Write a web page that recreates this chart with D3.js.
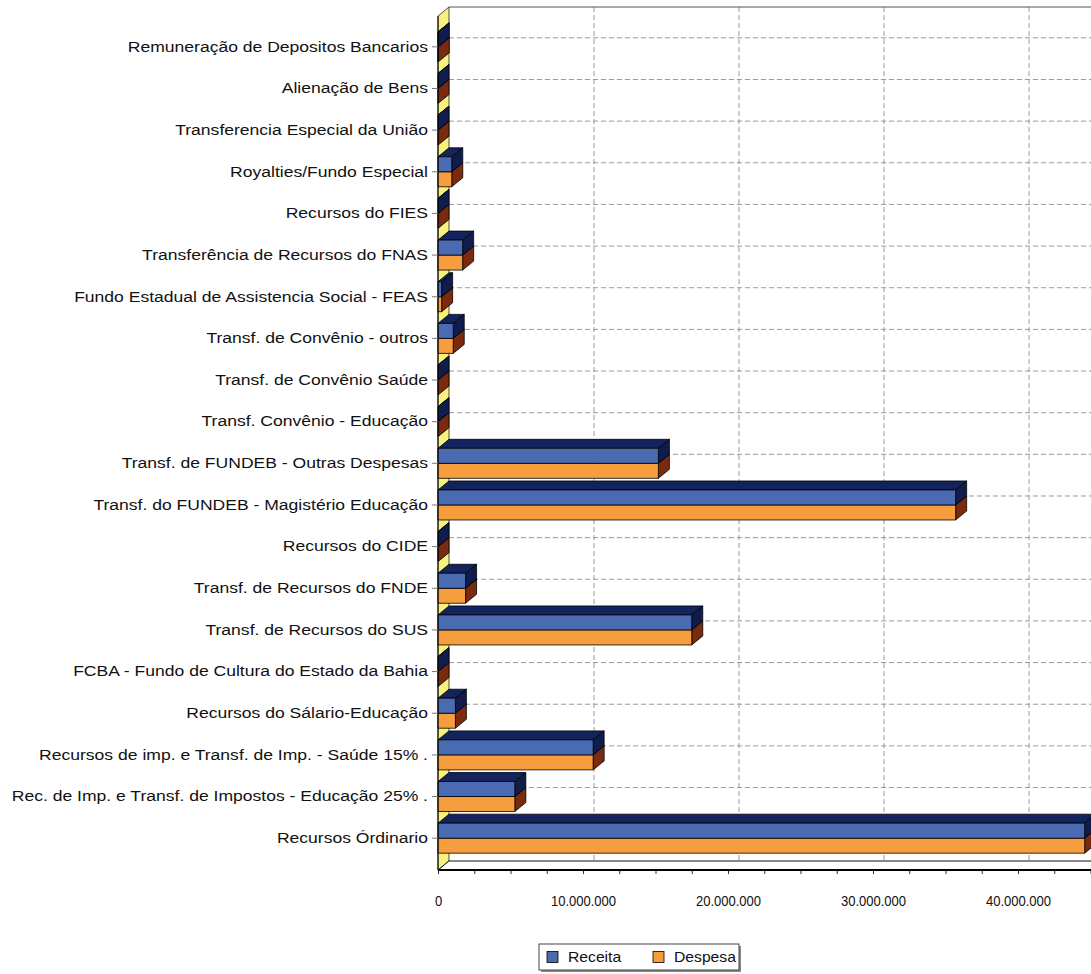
<!DOCTYPE html>
<html>
<head>
<meta charset="utf-8">
<script src="https://cdn.jsdelivr.net/npm/d3@7"></script>
<style>
  html, body { margin: 0; padding: 0; background: #fff; }
  svg { display: block; }
</style>
</head>
<body>
<svg id="chart" width="1091" height="974"></svg>
<script>
const categories = [
  "Remuneração de Depositos Bancarios",
  "Alienação de Bens",
  "Transferencia Especial da União",
  "Royalties/Fundo Especial",
  "Recursos do FIES",
  "Transferência de Recursos do FNAS",
  "Fundo Estadual de Assistencia Social - FEAS",
  "Transf. de Convênio - outros",
  "Transf. de Convênio Saúde",
  "Transf. Convênio - Educação",
  "Transf. de FUNDEB - Outras Despesas",
  "Transf. do FUNDEB - Magistério Educação",
  "Recursos do CIDE",
  "Transf. de Recursos do FNDE",
  "Transf. de Recursos do SUS",
  "FCBA - Fundo de Cultura do Estado da Bahia",
  "Recursos do Sálario-Educação",
  "Recursos de imp. e Transf. de Imp. - Saúde 15% .",
  "Rec. de Imp. e Transf. de Impostos - Educação 25% .",
  "Recursos Órdinario"
]
const receita = [20000, 0, 0, 950000, 0, 1700000, 250000, 1050000, 0, 0,
  15200000, 35700000, 0, 1900000, 17500000, 0, 1200000, 10700000, 5300000, 44600000]
const despesa = [20000, 0, 0, 950000, 0, 1700000, 250000, 1050000, 0, 0,
  15200000, 35700000, 0, 1900000, 17500000, 0, 1200000, 10700000, 5300000, 44600000]
const seriesNames = ["Receita", "Despesa"]
const majorTicks = [0, 10000000, 20000000, 30000000, 40000000]
const minorTicks = d3.range(0, 50000001, 2500000)

// look
const colors = {
  Receita: { face: "#4a6bb2", top: "#13245c", side: "#0f1c4c" },
  Despesa: { face: "#f69e3e", top: "#7a2a0e", side: "#7a2a0e" }
}
const SX = 1.17           // horizontal stretch of the category texts
const DX = 11, DY = 9     // 3d depth
const pLeft = 438, pTop = 16, pBottom = 870, pFar = 1300
const font = "'Liberation Sans', Arial, sans-serif"

const svg = d3.select("#chart")
const fmt = d3.formatLocale({ decimal: ",", thousands: ".", grouping: [3], currency: ["", ""] }).format(",d")

const x = d3.scaleLinear().domain([0, 10000000]).range([pLeft, pLeft + 145])
const y = d3.scaleBand().domain(categories).range([26, 859])
const inner = d3.scaleBand().domain(seriesNames).range([-15, 15])

const pts = p => p.map(d => d.join(",")).join(" ")

// back wall grid
const grid = svg.append("g")
  .attr("stroke", "#9a9a9a")
  .attr("stroke-dasharray", "5,3")
grid.selectAll("line.v")
  .data(majorTicks.slice(1).concat([50000000]))
  .enter().append("line")
  .attr("x1", d => x(d) + DX).attr("x2", d => x(d) + DX)
  .attr("y1", pTop - DY).attr("y2", pBottom - DY)
grid.selectAll("line.h")
  .data(categories)
  .enter().append("line")
  .attr("x1", pLeft + DX).attr("x2", pFar)
  .attr("y1", d => y(d) + y.bandwidth() / 2 - DY)
  .attr("y2", d => y(d) + y.bandwidth() / 2 - DY)

svg.append("line")
  .attr("x1", pLeft + DX).attr("x2", pFar)
  .attr("y1", pTop - DY).attr("y2", pTop - DY)
  .attr("stroke", "#555")

// left wall
svg.append("polygon")
  .attr("points", pts([[pLeft, pTop], [pLeft + DX, pTop - DY], [pLeft + DX, pBottom - DY], [pLeft, pBottom]]))
  .attr("fill", "#f7f27e")
  .attr("stroke", "#222")
  .attr("stroke-width", 0.8)

// floor
svg.append("polygon")
  .attr("points", pts([[pLeft, pBottom], [pLeft + DX, pBottom - DY], [pFar, pBottom - DY], [pFar, pBottom]]))
  .attr("fill", "#fff")
  .attr("stroke", "#111")
  .attr("stroke-width", 1)

// bars (Despesa first so Receita sits on top of its 3d face)
const rows = categories.map((c, i) => ({ c, Receita: receita[i], Despesa: despesa[i] }))
const order = ["Despesa", "Receita"]

const bars = svg.append("g")
  .attr("stroke", "#000")
  .attr("stroke-width", 0.8)
  .attr("stroke-linejoin", "round")

rows.forEach(r => {
  order.forEach(s => {
    const y0 = y(r.c) + y.bandwidth() / 2 + inner(s)
    const h = inner.bandwidth()
    const x0 = x(0), x1 = x(r[s])
    const g = bars.append("g")
    g.append("polygon")
      .attr("points", pts([[x0, y0], [x0 + DX, y0 - DY], [x1 + DX, y0 - DY], [x1, y0]]))
      .attr("fill", colors[s].top)
    g.append("polygon")
      .attr("points", pts([[x1, y0], [x1 + DX, y0 - DY], [x1 + DX, y0 + h - DY], [x1, y0 + h]]))
      .attr("fill", colors[s].side)
    g.append("rect")
      .attr("x", x0).attr("y", y0)
      .attr("width", x1 - x0).attr("height", h)
      .attr("fill", colors[s].face)
  })
})

// category axis
const yAxis = svg.append("g")
  .attr("transform", `translate(${pLeft},0)`)
  .call(d3.axisLeft(y).tickSize(6).tickSizeOuter(0))
yAxis.select(".domain")
  .attr("d", `M0,${pTop}V${pBottom}`)
  .attr("stroke", "#000")
yAxis.selectAll(".tick line").attr("stroke", "#777")
yAxis.selectAll(".tick text")
  .attr("x", -10 / SX)
  .attr("transform", `scale(${SX},1)`)
  .attr("font-family", font)
  .attr("font-size", 15)
  .attr("fill", "#111")

// value axis
const xMinor = svg.append("g")
  .attr("transform", `translate(0,${pBottom})`)
  .call(d3.axisBottom(x).tickValues(minorTicks).tickSize(4).tickFormat(""))
xMinor.select(".domain").remove()
xMinor.selectAll(".tick line").attr("stroke", "#333")

const xAxis = svg.append("g")
  .attr("transform", `translate(0,${pBottom})`)
  .call(d3.axisBottom(x).tickValues(majorTicks).tickSize(0).tickPadding(26).tickFormat(fmt))
xAxis.select(".domain").remove()
xAxis.selectAll(".tick text")
  .attr("transform", "scale(0.93,1)")
  .attr("font-family", font)
  .attr("font-size", 14)
  .attr("fill", "#111")

svg.append("line")
  .attr("x1", pLeft).attr("x2", pFar)
  .attr("y1", pBottom).attr("y2", pBottom)
  .attr("stroke", "#000")
  .attr("stroke-width", 2)

// legend
const legend = svg.append("g").attr("transform", "translate(539,944)")
legend.append("rect")
  .attr("x", 2).attr("y", 2).attr("width", 200).attr("height", 26)
  .attr("fill", "#8a8a8a")
legend.append("rect")
  .attr("width", 200).attr("height", 26)
  .attr("fill", "#fff").attr("stroke", "#444")

const lx = d3.scalePoint().domain(seriesNames).range([8, 114])
const item = legend.selectAll("g.item")
  .data(seriesNames)
  .enter().append("g")
  .attr("transform", d => `translate(${lx(d)},0)`)
item.append("rect")
  .attr("y", 7.5).attr("width", 11).attr("height", 11)
  .attr("fill", d => colors[d].face)
  .attr("stroke", "#000").attr("stroke-width", 0.8)
item.append("text")
  .attr("transform", "translate(21,18) scale(1.12,1)")
  .attr("font-family", font)
  .attr("font-size", 14)
  .attr("fill", "#111")
  .text(d => d)
</script>
</body>
</html>
